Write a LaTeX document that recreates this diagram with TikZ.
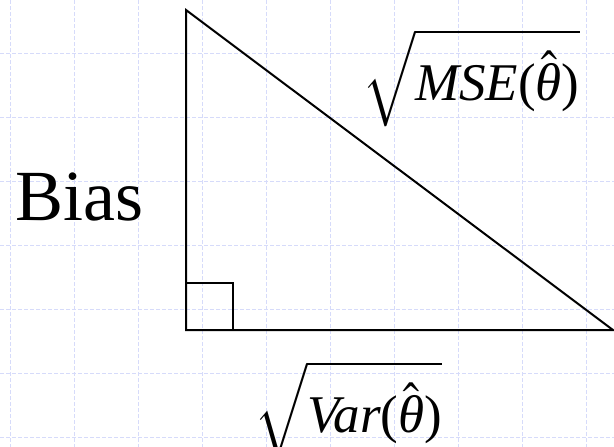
\documentclass[tikz,border=0pt]{standalone}
\usepackage{mathptmx}
\usepackage[no-math]{fontspec}
\setmainfont{Liberation Serif}
\definecolor{gridblue}{RGB}{214,219,250}
\newcommand{\rootof}[1]{$\sqrt{\mbox{\itshape #1\/\upshape(}\hat{\mbox{\itshape θ}}\mbox{)}}$}
\tikzset{gridline/.style={gridblue,line width=1pt,dash pattern=on 4pt off 2pt},
  side/.style={line width=2pt}}
\begin{document}
\begin{tikzpicture}[x=1pt,y=-1pt]
\useasboundingbox (0,0) rectangle (614,447);
% background grid
\foreach \x in {10,74,...,586}
  \draw[gridline] (\x,0) -- (\x,447);
\foreach \y in {53,117,...,437}
  \draw[gridline] (0,\y) -- (614,\y);
% the triangle
\coordinate (top) at (186,10);
\coordinate (corner) at (186,330);
\coordinate (tip) at (613,330);
\draw[side] (top) -- (corner) -- (tip) -- cycle;
\draw[side] (corner) ++(0,-47) -- ++(47,0) -- ++(0,47);
% labels
\node[inner sep=0,anchor=base west,font=\fontsize{72}{80}\selectfont] (bias) at (15,220) {Bias};
\node[inner sep=0,anchor=base west,font=\fontsize{53}{60}\selectfont] (mse) at (362,100) {\rootof{MSE}};
\node[inner sep=0,anchor=base west,font=\fontsize{53}{60}\selectfont] (var) at (254,432) {\rootof{Var}};
\end{tikzpicture}
\end{document}
